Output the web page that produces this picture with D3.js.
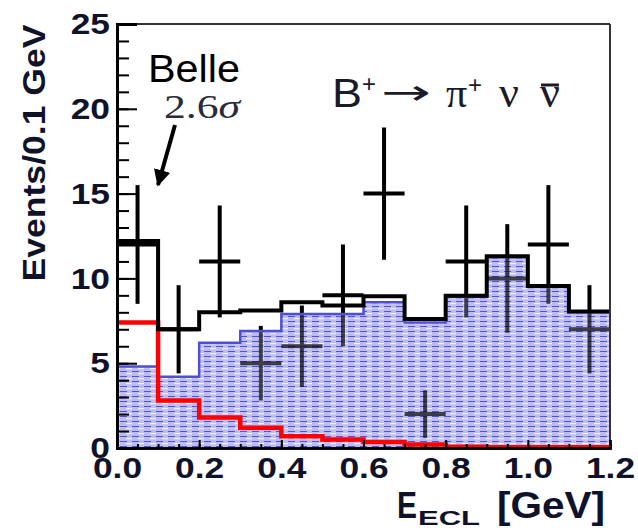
<!DOCTYPE html>
<html>
<head>
<meta charset="utf-8">
<script src="https://cdn.jsdelivr.net/npm/d3@7"></script>
<style>
  html, body { margin: 0; padding: 0; background: #fff; }
  svg { display: block; }
</style>
</head>
<body>
<svg id="chart" width="638" height="528"></svg>
<script>
// E_ECL bin edges (GeV), 0.1 GeV wide
const binEdges = [0.0, 0.1, 0.2, 0.3, 0.4, 0.5, 0.6, 0.7, 0.8, 0.9, 1.0, 1.1, 1.2];
// Observed events per bin and their errors
const dataCounts = [12, 7, 11, 5, 6, 9, 15, 2, 11, 10, 12, 7];
const dataErrors = [3.5, 2.6, 3.3, 2.2, 2.4, 3.0, 3.9, 1.4, 3.3, 3.2, 3.5, 2.6];
// Expected background (hatched) and fitted signal (red)
const background = [4.8, 4.2, 6.2, 6.9, 7.9, 7.9, 8.6, 7.4, 8.9, 11.25, 9.5, 8.0];
const signal = [7.4, 2.8, 1.8, 1.2, 0.7, 0.5, 0.35, 0.2, 0.08, 0.05, 0.05, 0.05];
// Tick labels
const xTickValues = [0.0, 0.2, 0.4, 0.6, 0.8, 1.0, 1.2];
const yTickValues = [0, 5, 10, 15, 20, 25];

const svg = d3.select("#chart");
const plotLeft = 117, plotRight = 610, plotTop = 24, plotBottom = 448;

const x = d3.scaleLinear().domain([0, 1.2]).range([plotLeft, plotRight]);
const y = d3.scaleLinear().domain([0, 25]).range([plotBottom, plotTop]);

// hatch pattern for the background histogram
const defs = svg.append("defs");
const pat = defs.append("pattern").attr("id", "hatch")
  .attr("patternUnits", "userSpaceOnUse").attr("width", 12).attr("height", 5);
pat.append("rect").attr("width", 12).attr("height", 5).attr("fill", "#bdbdf2");
pat.append("rect").attr("x", 0).attr("y", 1).attr("width", 7).attr("height", 1).attr("fill", "#5252d8");
pat.append("rect").attr("x", 6).attr("y", 3.2).attr("width", 6).attr("height", 1).attr("fill", "#ffffff").attr("opacity", 0.9);

// step points along bin edges
function steps(vals) {
  const pts = [];
  vals.forEach((v, i) => { pts.push([binEdges[i], v]); pts.push([binEdges[i + 1], v]); });
  return pts;
}
const total = background.map((b, i) => b + signal[i]);

const area = d3.area().x(d => x(d[0])).y0(y(0)).y1(d => y(d[1]));
const line = d3.line().x(d => x(d[0])).y(d => y(d[1]));

const bgPts = steps(background);

// background fill
svg.append("path").attr("d", area(bgPts)).attr("fill", "url(#hatch)");

// data points with errors
const centers = dataCounts.map((c, i) => (binEdges[i] + binEdges[i + 1]) / 2);
const pts = svg.append("g").attr("stroke", "#000").attr("stroke-width", 4).attr("fill", "none");
dataCounts.forEach((c, i) => {
  pts.append("line").attr("x1", x(centers[i])).attr("x2", x(centers[i]))
    .attr("y1", y(c + dataErrors[i])).attr("y2", y(Math.max(0, c - dataErrors[i])));
  pts.append("line").attr("x1", x(binEdges[i])).attr("x2", x(binEdges[i + 1]))
    .attr("y1", y(c)).attr("y2", y(c));
});

// hatch shows through on the points inside the background region
svg.append("path").attr("d", area(bgPts)).attr("fill", "url(#hatch)").attr("opacity", 0.3);

// background outline
svg.append("path").attr("d", line(bgPts)).attr("fill", "none")
  .attr("stroke", "#4f4fd4").attr("stroke-width", 2.5);

// signal
svg.append("path").attr("d", line(steps(signal))).attr("fill", "none")
  .attr("stroke", "#ff0000").attr("stroke-width", 4.5);

// total
svg.append("path").attr("d", line(steps(total))).attr("fill", "none")
  .attr("stroke", "#000").attr("stroke-width", 4);

// frame
svg.append("line").attr("x1", plotLeft).attr("x2", plotRight).attr("y1", plotTop).attr("y2", plotTop)
  .attr("stroke", "#333").attr("stroke-width", 2);
svg.append("line").attr("x1", plotRight).attr("x2", plotRight).attr("y1", plotTop).attr("y2", plotBottom)
  .attr("stroke", "#333").attr("stroke-width", 2);

const labelFont = "'Liberation Sans', Arial, Helvetica, sans-serif";
const labelColor = "#10122a";

// y axis
const yMinor = svg.append("g").attr("transform", `translate(${plotLeft},0)`)
  .call(d3.axisLeft(y).ticks(25).tickSize(-12).tickFormat(""));
const yMajor = svg.append("g").attr("transform", `translate(${plotLeft},0)`)
  .call(d3.axisLeft(y).tickValues(yTickValues).tickSize(-20).tickPadding(7).tickFormat(d3.format("d")));
[yMinor, yMajor].forEach(g => {
  g.select(".domain").attr("stroke", "#000").attr("stroke-width", 3);
  g.selectAll(".tick line").attr("stroke", "#000").attr("stroke-width", 2);
});

// x axis
const xMinor = svg.append("g").attr("transform", `translate(0,${plotBottom})`)
  .call(d3.axisBottom(x).ticks(24).tickSize(-4).tickFormat(""));
const xMajor = svg.append("g").attr("transform", `translate(0,${plotBottom})`)
  .call(d3.axisBottom(x).tickValues(xTickValues).tickSize(-8).tickPadding(9).tickFormat(d3.format(".1f")));
[xMinor, xMajor].forEach(g => {
  g.select(".domain").attr("stroke", "#000").attr("stroke-width", 2.5);
  g.selectAll(".tick line").attr("stroke", "#000").attr("stroke-width", 2);
});

// bold, slightly widened tick labels
[yMajor, xMajor].forEach(g => {
  g.selectAll(".tick text")
    .attr("font-family", labelFont).attr("font-weight", "bold")
    .attr("font-size", 30).attr("fill", labelColor)
    .each(function () {
      const w = this.getComputedTextLength();
      d3.select(this).attr("textLength", w * 1.18).attr("lengthAdjust", "spacingAndGlyphs");
    });
});

// axis titles
svg.append("text")
  .attr("transform", "translate(45,153) rotate(-90)")
  .attr("text-anchor", "middle")
  .attr("font-family", labelFont).attr("font-weight", "bold").attr("font-size", 32)
  .attr("fill", labelColor)
  .attr("textLength", 257).attr("lengthAdjust", "spacingAndGlyphs")
  .text("Events/0.1 GeV");

const xtStyle = sel => sel.attr("font-family", labelFont).attr("font-weight", "bold")
  .attr("fill", labelColor).attr("lengthAdjust", "spacingAndGlyphs");
svg.append("text").attr("x", 397).attr("y", 518).attr("font-size", 36)
  .call(xtStyle).attr("textLength", 20).text("E");
svg.append("text").attr("x", 418).attr("y", 525).attr("font-size", 20)
  .call(xtStyle).attr("textLength", 62).text("ECL");
svg.append("text").attr("x", 497).attr("y", 518).attr("font-size", 36)
  .call(xtStyle).attr("textLength", 108).text("[GeV]");

// annotations
svg.append("text").attr("x", 148).attr("y", 82)
  .attr("font-family", labelFont).attr("font-size", 38).attr("fill", "#000")
  .attr("textLength", 92).attr("lengthAdjust", "spacingAndGlyphs")
  .text("Belle");

const sig = svg.append("text").attr("x", 164).attr("y", 118)
  .attr("font-family", "'Liberation Serif', 'DejaVu Serif', serif").attr("font-size", 33)
  .attr("fill", "#2a2a3a").attr("textLength", 76).attr("lengthAdjust", "spacingAndGlyphs");
sig.append("tspan").text("2.6");
sig.append("tspan").attr("font-style", "italic").text("σ");

defs.append("marker").attr("id", "head").attr("viewBox", "0 0 10 10")
  .attr("refX", 9).attr("refY", 5).attr("markerWidth", 4.2).attr("markerHeight", 4.2)
  .attr("markerUnits", "strokeWidth").attr("orient", "auto")
  .append("path").attr("d", "M0,0 L10,5 L0,10 Z").attr("fill", "#000");
svg.append("line").attr("x1", 175).attr("y1", 125).attr("x2", 158).attr("y2", 185)
  .attr("stroke", "#000").attr("stroke-width", 4).attr("marker-end", "url(#head)");

// decay label
const titleColor = "#1a1a28";
const tText = (tx, ty, size, family, s) => svg.append("text").attr("x", tx).attr("y", ty)
  .attr("font-family", family).attr("font-size", size).attr("fill", titleColor).text(s);
const serif = "'Liberation Serif', serif";
tText(332, 107, 41, labelFont, "B").attr("textLength", 30).attr("lengthAdjust", "spacingAndGlyphs");
tText(362, 92, 24, labelFont, "+");
tText(381, 104, 34, "'DejaVu Sans', sans-serif", "→").attr("textLength", 50).attr("lengthAdjust", "spacingAndGlyphs");
tText(446, 107, 42, serif, "π");
tText(468, 93, 24, labelFont, "+");
tText(499, 107, 44, serif, "ν");
const nubar = tText(540, 107, 44, serif, "ν");
const nb = nubar.node().getBBox();
svg.append("line").attr("x1", nb.x + 1).attr("x2", nb.x + nb.width - 1)
  .attr("y1", 85).attr("y2", 85).attr("stroke", titleColor).attr("stroke-width", 3);
</script>
</body>
</html>
